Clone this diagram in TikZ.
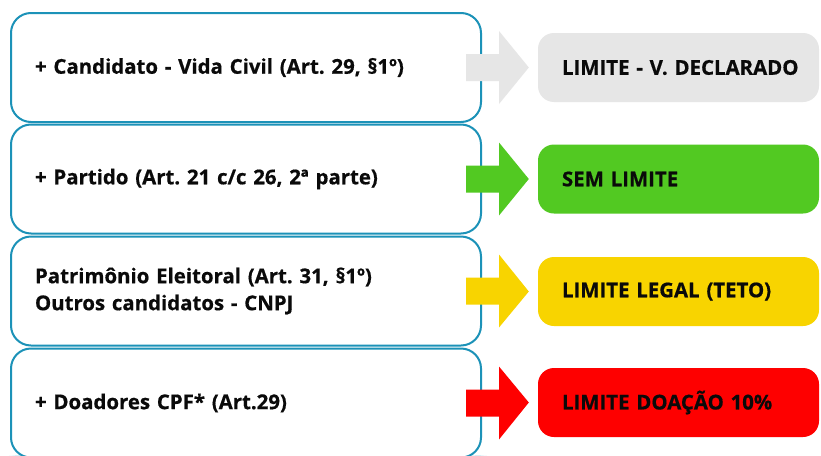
\documentclass[tikz,border=0pt]{standalone}
\usepackage{fontspec}
\setmainfont{Open Sans}[BoldFeatures={FakeBold=0.6}]
\usetikzlibrary{calc,backgrounds}
\definecolor{bordblue}{HTML}{1C92B8}
\definecolor{glowc}{HTML}{9ED9EA}
\definecolor{greybox}{HTML}{E6E6E6}
\definecolor{greenbox}{HTML}{52C922}
\definecolor{yellowbox}{HTML}{F8D400}
\definecolor{redbox}{HTML}{FE0000}
\definecolor{txt}{HTML}{0A0A0A}
\frenchspacing
\newcommand\flowarrow[3]{%
  \fill[#3] ($(#1.east)+(-16,-13.5)$) -- ($(#1.east)+(17,-13.5)$) -- ($(#1.east)+(17,-36.5)$)
    -- ($(#2.west)+(-9,0)$) -- ($(#1.east)+(17,36.5)$) -- ($(#1.east)+(17,13.5)$)
    -- ($(#1.east)+(-16,13.5)$) -- cycle;}
\tikzset{
  x=1pt, y=-1pt,
  lbl/.style={font=\bfseries\fontsize{20.4}{27}\selectfont, text=txt},
  lbox/.style={lbl, draw=bordblue, line width=2pt, fill=white, rounded corners=20pt,
    minimum width=470pt, minimum height=109pt, text width=422pt, inner xsep=24pt, align=left},
  rbox/.style={lbl, rounded corners=16pt, minimum width=281pt, minimum height=69pt,
    text width=233pt, inner xsep=24pt, align=left},
  glowA/.style={draw=glowc, line width=14pt, opacity=0.10},
  glowB/.style={draw=glowc, line width=8pt, opacity=0.15},
  glowC/.style={draw=glowc, line width=4pt, opacity=0.25},
}
\begin{document}
\begin{tikzpicture}
\useasboundingbox[fill=white] (0,0) rectangle (821,455);
\node[lbox] (l1) at (246,67.5) {+ Candidato - Vida Civil (Art. 29, §1º)};
\node[lbox] (l2) at (246,179) {+ Partido (Art. 21 c/c 26, 2ª parte)};
\node[lbox] (l3) at (246,291) {Patrimônio Eleitoral (Art. 31, §1º)\\Outros candidatos - CNPJ};
\node[lbox] (l4) at (246,403) {+ Doadores CPF* (Art.29)};
\node[rbox, fill=greybox] (r1) at (678.5,67.5) {\mbox{LIMITE - V. DECLARADO}};
\node[rbox, fill=greenbox] (r2) at (678.5,179) {\mbox{SEM LIMITE}};
\node[rbox, fill=yellowbox] (r3) at (678.5,291.5) {\mbox{LIMITE LEGAL (TETO)}};
\node[rbox, fill=redbox] (r4) at (678.5,402.5) {\mbox{LIMITE DOAÇÃO 10\%}};
\begin{scope}[on background layer]
  \foreach \n/\r in {l1/20,l2/20,l3/20,l4/20,r1/16,r2/16,r3/16,r4/16} {
    \foreach \s in {glowA,glowB,glowC}
      \draw[\s, rounded corners=\r pt] ($(\n.north west)+(2,3)$) rectangle ($(\n.south east)+(2,3)$);
  }
\end{scope}
\flowarrow{l1}{r1}{greybox}
\flowarrow{l2}{r2}{greenbox}
\flowarrow{l3}{r3}{yellowbox}
\flowarrow{l4}{r4}{redbox}
\end{tikzpicture}
\end{document}
